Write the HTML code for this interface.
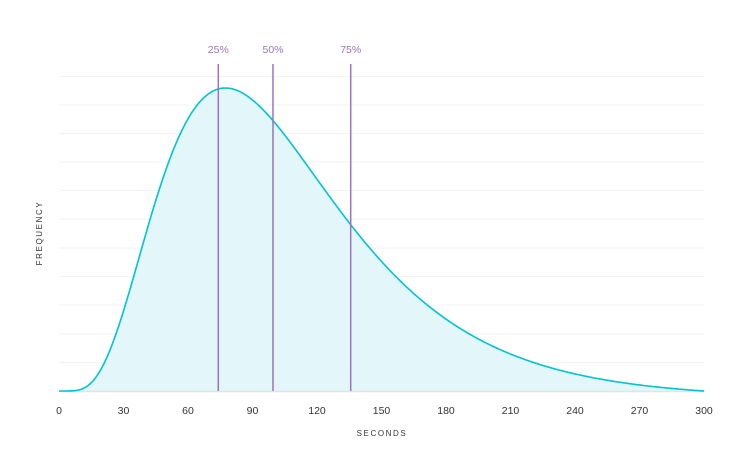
<!DOCTYPE html>
<html><head><meta charset="utf-8"><style>
html,body{margin:0;padding:0;background:#fff;}
svg{display:block;font-family:"Liberation Sans",sans-serif;}
</style></head><body>
<svg id="s" width="730" height="453" viewBox="0 0 730 453" xmlns="http://www.w3.org/2000/svg">
<g stroke="#f2f3f4" stroke-width="1">
<line x1="59" x2="704" y1="76.5" y2="76.5"/>
<line x1="59" x2="704" y1="105" y2="105"/>
<line x1="59" x2="704" y1="133.5" y2="133.5"/>
<line x1="59" x2="704" y1="162" y2="162"/>
<line x1="59" x2="704" y1="190.5" y2="190.5"/>
<line x1="59" x2="704" y1="219" y2="219"/>
<line x1="59" x2="704" y1="248" y2="248"/>
<line x1="59" x2="704" y1="276.5" y2="276.5"/>
<line x1="59" x2="704" y1="305" y2="305"/>
<line x1="59" x2="704" y1="334" y2="334"/>
<line x1="59" x2="704" y1="362.5" y2="362.5"/>
</g>
<path id="fill" fill="#e3f6f9" stroke="none"/>
<line x1="59" x2="704" y1="391.5" y2="391.5" stroke="#dfe5e7" stroke-width="1.5"/>
<path id="line" fill="none" stroke="#00c3d3" stroke-width="1.6"/>
<g stroke="#9b74c1" stroke-width="1.5">
<line x1="218.3" x2="218.3" y1="64" y2="391"/>
<line x1="273" x2="273" y1="64" y2="391"/>
<line x1="350.7" x2="350.7" y1="64" y2="391"/>
</g>
<g fill="#9b74c1" font-size="10.5" text-anchor="middle">
<text x="218.3" y="53">25%</text>
<text x="273" y="53">50%</text>
<text x="350.7" y="53">75%</text>
</g>
<g fill="#333" font-size="10.5" text-anchor="middle">
<text x="59" y="414">0</text><text x="123.5" y="414">30</text><text x="188" y="414">60</text>
<text x="252.5" y="414">90</text><text x="317" y="414">120</text><text x="381.5" y="414">150</text>
<text x="446" y="414">180</text><text x="510.5" y="414">210</text><text x="575" y="414">240</text>
<text x="639.5" y="414">270</text><text x="704" y="414">300</text>
</g>
<text x="382" y="436" fill="#333" font-size="8" letter-spacing="1.6" text-anchor="middle">SECONDS</text>
<text transform="translate(42,233) rotate(-90)" fill="#333" font-size="8" letter-spacing="1.6" text-anchor="middle">FREQUENCY</text>
</svg>
<script>
(function(){
var m=77.4,a=6.9,b=0.5;
function h(t){if(t<=0)return 0;var r=t/m;var v=Math.exp(a*Math.log(r)+(a/b)*(1-Math.pow(r,b)));return v*(1-Math.pow(t/300,8));}
var pts=[];
for(var t=0;t<=300;t+=0.5){pts.push((59+t*2.15).toFixed(2)+","+(391-303*h(t)).toFixed(2));}
var d="M"+pts.join(" L");
document.getElementById("line").setAttribute("d",d);
document.getElementById("fill").setAttribute("d",d+" L704,391 L59,391 Z");
})();
</script>
</body></html>
